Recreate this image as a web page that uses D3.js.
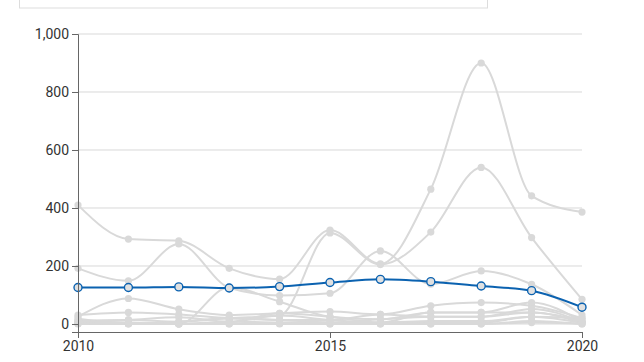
<!DOCTYPE html>
<html>
<head>
<meta charset="utf-8">
<script src="https://cdn.jsdelivr.net/npm/d3@7"></script>
<style>
  body { margin: 0; background: #fff; }
  text { font-family: Roboto, "Open Sans", sans-serif; }
</style>
</head>
<body>
<div id="container"></div>
<script>
const years = [2010, 2011, 2012, 2013, 2014, 2015, 2016, 2017, 2018, 2019, 2020]
const yTicks = [0, 200, 400, 600, 800, 1000]
const xTicks = [2010, 2015, 2020]

// highlighted series
const highlight = [126, 126, 128, 124, 129, 143, 154, 146, 131, 115, 58]

// background series
const grayA = [410, 293, 287, 192, 155, 324, 207, 465, 900, 442, 386]
const grayB = [12, 14, 8, 20, 29, 314, 205, 317, 540, 298, 85]
const grayC = [192, 149, 276, 125, 98, 106, 252, 137, 183, 137, 31]
const grayD = [25, 88, 51, 31, 37, 43, 33, 63, 74, 63, 20]
const grayE = [18, 2, 0, 127, 77, 25, 16, 40, 40, 74, 8]
const grayF = [31, 40, 33, 20, 14, 14, 33, 25, 25, 52, 8]
const grayG = [8, 14, 23, 8, 37, 25, 5, 40, 40, 40, 3]
const grayH = [5, 2, 8, 20, 14, 5, 16, 25, 25, 40, 8]
const grayI = [3, 2, 0, 8, 5, 5, 5, 5, 5, 25, 3]
const grayJ = [0, 0, 0, 0, 0, 0, 0, 0, 0, 10, 0]
const grayK = [10, 5, 0, 5, 29, 14, 5, 10, 10, 25, 20]
const grayL = [2, 0, 0, 0, 2, 0, 0, 0, 0, 5, 0]

const grays = [grayA, grayB, grayC, grayD, grayE, grayF, grayG, grayH, grayI, grayJ, grayK, grayL]

const svg = d3.select('#container').append('svg')
  .attr('width', 644)
  .attr('height', 362)

// search box at top (cut off by the frame, as in the original)
svg.append('rect')
  .attr('x', 19.5)
  .attr('y', -20)
  .attr('width', 468)
  .attr('height', 28)
  .attr('fill', '#fff')
  .attr('stroke', '#ddd')
svg.append('text')
  .attr('x', 48)
  .attr('y', -3)
  .attr('font-size', 13)
  .attr('fill', '#888')
  .text('Type to search')

const x = d3.scaleLinear()
  .domain([2010, 2020])
  .range([78, 582])

const y = d3.scaleLinear()
  .domain([-27.6, 1000])
  .range([332, 34])

// gridlines
svg.append('g')
  .selectAll('line')
  .data(yTicks)
  .enter()
  .append('line')
  .attr('x1', x(2010))
  .attr('x2', x(2020))
  .attr('y1', d => y(d))
  .attr('y2', d => y(d))
  .attr('stroke', '#d9d9d9')
  .attr('stroke-width', 1)

const line = d3.line()
  .x((d, i) => x(years[i]))
  .y(d => y(d))
  .curve(d3.curveMonotoneX)

svg.append('g')
  .selectAll('path')
  .data(grays)
  .enter()
  .append('path')
  .attr('d', line)
  .attr('fill', 'none')
  .attr('stroke', '#d9d9d9')
  .attr('stroke-width', 2)

grays.forEach(s => {
  svg.append('g')
    .selectAll('circle')
    .data(s)
    .enter()
    .append('circle')
    .attr('cx', (d, i) => x(years[i]))
    .attr('cy', d => y(d))
    .attr('r', 3.6)
    .attr('fill', '#d9d9d9')
})

svg.append('path')
  .datum(highlight)
  .attr('d', line)
  .attr('fill', 'none')
  .attr('stroke', '#0b62b0')
  .attr('stroke-width', 2)

svg.append('g')
  .selectAll('circle')
  .data(highlight)
  .enter()
  .append('circle')
  .attr('cx', (d, i) => x(years[i]))
  .attr('cy', d => y(d))
  .attr('r', 4)
  .attr('fill', '#e1e1e1')
  .attr('stroke', '#0b62b0')
  .attr('stroke-width', 1.4)

// axes
const yAxis = svg.append('g')
  .attr('transform', 'translate(78,0)')
  .call(d3.axisLeft(y).tickValues(yTicks).tickFormat(d3.format(',')))
const xAxis = svg.append('g')
  .attr('transform', 'translate(0,332)')
  .call(d3.axisBottom(x).tickValues(xTicks).tickFormat(d3.format('d')))

;[yAxis, xAxis].forEach(a => {
  a.selectAll('path, line').attr('stroke', '#666')
  a.selectAll('text')
    .attr('fill', '#333')
    .attr('font-size', 14)
    .attr('font-family', 'Roboto, sans-serif')
})
</script>
</body>
</html>
